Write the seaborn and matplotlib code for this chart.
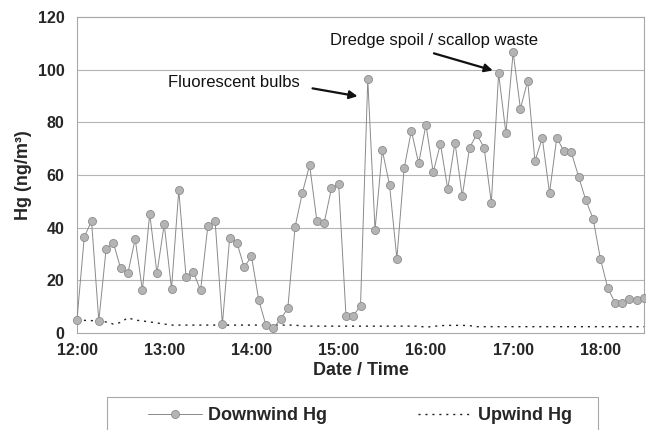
import numpy as np
import pandas as pd
import matplotlib
matplotlib.use("Agg")
import matplotlib.pyplot as plt
from matplotlib.patches import Rectangle
import seaborn as sns

# minutes after 12:00, 5-minute sampling
minutes = list(range(0, 395, 5))

downwind_hg = [5.1, 36.5, 42.5, 4.6, 31.8, 34.3, 24.6, 22.7, 35.7, 16.2,
               45.3, 22.7, 41.3, 16.7, 54.2, 21.3, 23.2, 16.2, 40.6, 42.5,
               3.3, 36.2, 34.3, 24.9, 29.2, 12.5, 2.9, 1.9, 5.2, 9.4,
               40.3, 53.2, 63.8, 42.5, 41.8, 54.9, 56.5, 6.6, 6.6, 10.3,
               96.3, 39.2, 69.4, 56.1, 28.2, 62.5, 76.8, 64.4, 79.1, 61.1,
               71.8, 54.7, 72.3, 51.9, 70.4, 75.4, 70.4, 49.5, 98.6, 75.9,
               106.6, 85.2, 95.8, 65.2, 74.1, 53.2, 74.1, 69.0, 68.6, 59.4,
               50.4, 43.4, 28.2, 17.2, 11.5, 11.5, 12.9, 12.7, 13.4]

upwind_hg = ([5.0, 4.8, 4.7, 4.6, 4.2, 3.4, 4.0, 5.8, 4.9, 4.6, 4.2, 3.8, 3.4, 3.0]
             + [3.0] * 17
             + [2.6] * 17
             + [2.2, 2.5, 2.8, 2.9, 2.9, 2.9, 2.8]
             + [2.4] * 24)

hour_ticks = [0, 60, 120, 180, 240, 300, 360]
hour_labels = ["12:00", "13:00", "14:00", "15:00", "16:00", "17:00", "18:00"]
y_ticks = [0, 20, 40, 60, 80, 100, 120]

df = pd.DataFrame({"minutes": minutes, "Downwind Hg": downwind_hg, "Upwind Hg": upwind_hg})

sns.set_style("white")
plt.rcParams["font.family"] = ["Liberation Sans", "DejaVu Sans"]

W, H = 646, 430
fig = plt.figure(figsize=(W / 100, H / 100), dpi=100)
ax = fig.add_axes([77 / W, (H - 333) / H, (644 - 77) / W, (333 - 17) / H])

grid_c = "#b5b5b5"
for v in y_ticks[1:]:
    ax.axhline(v, color=grid_c, lw=0.8, zorder=0)

sns.lineplot(data=df, x="minutes", y="Upwind Hg", ax=ax, color="#222222", lw=1.0,
             linestyle=(0, (1.5, 3.5)), label="Upwind Hg", legend=False, zorder=2)
sns.lineplot(data=df, x="minutes", y="Downwind Hg", ax=ax, color="#8a8a8a", lw=0.7,
             marker="o", markersize=5.8, markerfacecolor="#b4b4b4",
             markeredgecolor="#8c8c8c", markeredgewidth=0.6,
             label="Downwind Hg", legend=False, zorder=3)
for ln in ax.lines:
    ln.set_clip_on(False)

ax.set_xlim(0, 390)
ax.set_ylim(0, 120)
ax.set_xticks(hour_ticks)
ax.set_xticklabels(hour_labels)
ax.set_yticks(y_ticks)
for s in ax.spines.values():
    s.set_color("#a8a8a8")
    s.set_linewidth(0.8)
ax.tick_params(axis="x", direction="out", length=4, width=0.8, color="#a8a8a8",
               labelsize=11.5, pad=3)
ax.tick_params(axis="y", direction="out", length=5, width=0.8, color="#a8a8a8",
               labelsize=11.5, pad=4)
for lab in ax.get_xticklabels() + ax.get_yticklabels():
    lab.set_fontweight("bold")

ax.set_xlabel("Date / Time", fontsize=13, fontweight="bold", labelpad=3)
ax.set_ylabel("Hg (ng/m³)", fontsize=13, fontweight="bold")
ax.yaxis.set_label_coords(-0.08, 0.5)

arrow_kw = dict(arrowstyle="-|>", color="#111111", lw=1.6,
                shrinkA=0, shrinkB=0, mutation_scale=12)
ax.text(62.6, 95.2, "Fluorescent bulbs", fontsize=12, va="center", ha="left",
        color="#111111", zorder=5)
ax.annotate("", xy=(193, 89.9), xytext=(162, 92.9), arrowprops=arrow_kw, zorder=5)
ax.text(174, 111.1, "Dredge spoil / scallop waste", fontsize=12, va="center",
        ha="left", color="#111111", zorder=5)
ax.annotate("", xy=(286, 99.7), xytext=(245.5, 106.2), arrowprops=arrow_kw, zorder=5)

# legend box (bottom cut off by figure edge, as in the reference)
fig.patches.append(Rectangle((107 / W, -20 / H), (598 - 107) / W, (H + 20 - 397) / H,
                             transform=fig.transFigure, facecolor="white",
                             edgecolor="#a8a8a8", lw=0.8))
handles, labels = ax.get_legend_handles_labels()
order = [labels.index("Downwind Hg"), labels.index("Upwind Hg")]
leg = fig.legend([handles[i] for i in order], [labels[i] for i in order],
                 loc="center left", bbox_to_anchor=(148 / W, (H - 416) / H),
                 ncol=2, frameon=False, handlelength=3.0, handletextpad=0.35,
                 columnspacing=5.0, borderpad=0.0, borderaxespad=0.0,
                 prop={"family": "Liberation Sans", "weight": "bold", "size": 13})

fig.savefig("out.png", dpi=100)
